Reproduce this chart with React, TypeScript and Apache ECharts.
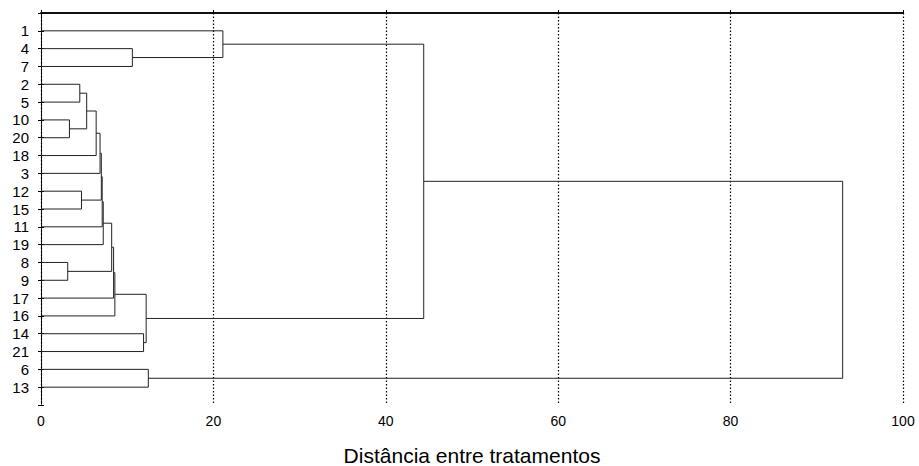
import React, { useEffect, useRef } from "react";
import * as echarts from "echarts";

// Leaves, top to bottom
const leaves = ["1", "4", "7", "2", "5", "10", "20", "18", "3", "12", "15", "11", "19", "8", "9", "17", "16", "14", "21", "6", "13"];

// Merge steps: children (leaf label or "c<index>") and linkage distance
const mergeLeft = ["4", "1", "2", "10", "c2", "c4", "c5", "12", "c6", "c8", "c9", "8", "c10", "c12", "c13", "14", "c14", "c1", "6", "c17"];
const mergeRight = ["7", "c0", "5", "20", "c3", "18", "3", "15", "c7", "11", "19", "9", "c11", "17", "16", "21", "c15", "c16", "13", "c18"];
const mergeHeight = [10.6, 21.1, 4.5, 3.3, 5.3, 6.4, 6.85, 4.7, 7.0, 7.1, 7.22, 3.1, 8.2, 8.42, 8.57, 11.9, 12.2, 44.4, 12.45, 93.0];

const xTicks = [0, 20, 40, 60, 80, 100];

function buildSegments() {
  const pos: Record<string, { x: number; y: number }> = {};
  leaves.forEach((l, i) => {
    pos[l] = { x: 0, y: i + 1 };
  });
  const segs: { coords: number[][] }[] = [];
  mergeHeight.forEach((h, i) => {
    const a = pos[mergeLeft[i]];
    const b = pos[mergeRight[i]];
    segs.push({
      coords: [
        [a.x, a.y],
        [h, a.y],
        [h, b.y],
        [b.x, b.y],
      ],
    });
    pos["c" + i] = { x: h, y: (a.y + b.y) / 2 };
  });
  return segs;
}

export default function App() {
  const ref = useRef<HTMLDivElement>(null);
  useEffect(() => {
    if (!ref.current) return;
    const chart = echarts.init(ref.current, null, { renderer: "svg" });
    const font = "'Liberation Sans', Arial, Helvetica, sans-serif";
    chart.setOption({
      animation: false,
      backgroundColor: "#fff",
      grid: { left: 41, right: 16, top: 13, bottom: 61, containLabel: false, outerBoundsMode: "none" },
      xAxis: [
        {
          type: "value",
          min: 0,
          max: 100,
          interval: 20,
          position: "bottom",
          name: "Distância entre tratamentos",
          nameLocation: "middle",
          nameGap: 40,
          nameTextStyle: { fontFamily: font, fontSize: 21, color: "#000" },
          axisLine: { show: true, lineStyle: { color: "#000", width: 1.5 } },
          axisTick: { show: true, inside: true, length: 3, lineStyle: { color: "#000" } },
          axisLabel: {
            fontFamily: font,
            fontSize: 14,
            color: "#000",
            margin: 9,
            formatter: (v: number) => (xTicks.includes(v) ? String(v) : ""),
          },
          splitLine: { show: true, lineStyle: { color: "#000", type: [1.5, 2], width: 1.2 } },
        },
        {
          type: "value",
          min: 0,
          max: 100,
          interval: 20,
          position: "top",
          axisLine: { show: true, lineStyle: { color: "#000", width: 1.5 } },
          axisTick: { show: false },
          axisLabel: { show: false },
          splitLine: { show: false },
        },
      ],
      yAxis: [
        {
          type: "value",
          min: 0,
          max: 22,
          interval: 1,
          inverse: true,
          position: "left",
          axisLine: { show: true, lineStyle: { color: "#000", type: [1, 1], width: 1 } },
          axisTick: { show: true, inside: true, length: 3, lineStyle: { color: "#000" } },
          axisLabel: {
            fontFamily: font,
            fontSize: 15,
            color: "#000",
            margin: 12,
            formatter: (v: number) => leaves[v - 1] ?? "",
          },
          splitLine: { show: false },
        },
        {
          type: "value",
          min: 0,
          max: 22,
          interval: 1,
          inverse: true,
          position: "right",
          axisLine: { show: true, lineStyle: { color: "#000", type: [1, 1], width: 1 } },
          axisTick: { show: true, inside: true, length: 3, lineStyle: { color: "#000" } },
          axisLabel: { show: false },
          splitLine: { show: false },
        },
      ],
      series: [
        {
          type: "lines",
          coordinateSystem: "cartesian2d",
          xAxisIndex: 0,
          yAxisIndex: 0,
          polyline: true,
          silent: true,
          lineStyle: { color: "#222", width: 1, opacity: 1 },
          data: buildSegments(),
        },
      ],
    });
    return () => chart.dispose();
  }, []);
  return <div ref={ref} style={{ position: "fixed", left: 0, top: 0, width: 919, height: 466 }} />;
}
